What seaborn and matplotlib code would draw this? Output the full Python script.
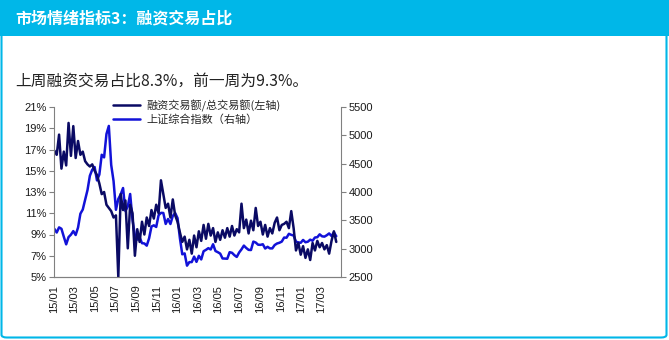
import numpy as np
import pandas as pd
import matplotlib
matplotlib.use("Agg")
import matplotlib.pyplot as plt
import matplotlib.dates as mdates
from matplotlib.patches import Rectangle, FancyBboxPatch
import seaborn as sns

# ---------------- data (weekly) ----------------
start_date = "2015-01-02"
ratio = [16.9, 16.5, 18.4, 15.2, 16.8, 15.5, 19.5, 16.4, 19.2, 16.2,
         17.8, 16.5, 16.8, 15.9, 15.6, 15.4, 15.6, 15.0, 14.6, 13.8,
         12.8, 13.0, 11.8, 11.5, 11.2, 10.6, 10.8, 5.0, 12.8, 11.3,
         12.2, 7.7, 11.8, 11.0, 7.0, 9.5, 8.3, 10.2, 9.0, 10.6,
         9.8, 11.3, 10.5, 11.8, 11.0, 14.1, 12.8, 11.5, 11.9, 10.6,
         12.3, 10.8, 10.2, 9.2, 8.3, 8.8, 7.6, 8.5, 7.2, 8.9,
         7.8, 9.3, 8.4, 9.9, 8.6, 10.0, 8.9, 9.6, 8.3, 9.2,
         8.5, 9.4, 8.7, 9.6, 8.8, 9.8, 8.9, 9.5, 9.2, 11.9,
         9.6, 10.4, 9.1, 10.3, 9.4, 11.5, 9.8, 10.2, 9.0, 9.9,
         8.8, 9.6, 9.1, 10.1, 10.6, 9.4, 9.9, 10.0, 10.2, 9.6,
         11.2, 9.6, 7.5, 8.2, 7.1, 7.9, 6.8, 7.6, 6.6, 8.2,
         7.5, 8.4, 7.8, 8.2, 7.6, 8.0, 7.2, 8.4, 9.3, 8.3]
sse = [3350, 3285, 3376, 3351, 3210, 3076, 3204, 3247, 3310, 3241,
       3372, 3617, 3691, 3864, 4034, 4287, 4394, 4441, 4205, 4308,
       4657, 4611, 5023, 5166, 4478, 4192, 3686, 3877, 3957, 4070,
       3663, 3744, 3965, 3507, 3232, 3160, 3200, 3097, 3092, 3053,
       3183, 3391, 3412, 3383, 3590, 3632, 3630, 3436, 3524, 3435,
       3578, 3628, 3539, 3186, 2901, 2916, 2700, 2763, 2763, 2860,
       2767, 2874, 2810, 2955, 2979, 3009, 2985, 3078, 2959, 2938,
       2913, 2827, 2825, 2822, 2938, 2927, 2885, 2854, 2932, 2988,
       3054, 3012, 2979, 2976, 3125, 3108, 3070, 3067, 3078, 3002,
       3033, 3005, 3005, 3064, 3091, 3104, 3125, 3196, 3193, 3262,
       3244, 3233, 3123, 3110, 3104, 3154, 3113, 3123, 3159, 3140,
       3197, 3202, 3253, 3218, 3212, 3237, 3269, 3223, 3287, 3220]
label_ratio = "融资交易额/总交易额(左轴)"
label_sse = "上证综合指数（右轴）"
left_ticks = [5, 7, 9, 11, 13, 15, 17, 19, 21]
right_ticks = [2500, 3000, 3500, 4000, 4500, 5000, 5500]
title = "市场情绪指标3：融资交易占比"
subtitle = "上周融资交易占比8.3%，前一周为9.3%。"

dates = pd.date_range(start_date, periods=len(ratio), freq="W-FRI")
df = pd.DataFrame({"date": dates, "ratio": ratio, "sse": sse})

# ---------------- style ----------------
sns.set_style("white")
plt.rcParams["font.family"] = ["Liberation Sans", "Noto Sans CJK SC", "DejaVu Sans"]
cjk = ["Noto Sans CJK SC", "DejaVu Sans"]

W, H = 669, 340
fig = plt.figure(figsize=(W / 100, H / 100), dpi=100)

cyan = "#00b7e8"
# panel border
fig.patches.append(FancyBboxPatch((1.5 / W, 2.5 / H), (W - 4) / W, (H - 6) / H,
                                  boxstyle="round,pad=0,rounding_size=0.008",
                                  transform=fig.transFigure, facecolor="white",
                                  edgecolor=cyan, linewidth=1.5, zorder=-2))
# header bar
fig.patches.append(Rectangle((0, (H - 36) / H), 1, 36 / H, transform=fig.transFigure,
                             facecolor=cyan, edgecolor="none", zorder=-1))
fig.text(15 / W, (H - 18) / H, title, color="white", fontsize=11.5, fontweight="bold",
         family=cjk, va="center", ha="left")
fig.text(15 / W, (H - 81) / H, subtitle, color="#222222", fontsize=11.3,
         family=cjk, va="center", ha="left")

# ---------------- chart ----------------
ax = fig.add_axes([54 / W, (H - 277) / H, (341 - 54) / W, (277 - 107) / H])
ax2 = ax.twinx()

navy = "#0a0a64"
blue = "#1212d8"
sns.lineplot(data=df, x="date", y="sse", ax=ax2, color=blue, linewidth=1.8, label=label_sse, legend=False)
sns.lineplot(data=df, x="date", y="ratio", ax=ax, color=navy, linewidth=1.8, label=label_ratio, legend=False)
ax2.set_zorder(1)
ax.set_zorder(2)
ax.patch.set_visible(False)
ax2.patch.set_visible(False)

ax.set_ylim(5, 21)
ax.set_yticks(left_ticks)
ax.set_yticklabels([f"{t}%" for t in left_ticks])
ax2.set_ylim(2500, 5500)
ax2.set_yticks(right_ticks)
ax2.set_yticklabels([str(t) for t in right_ticks])

ax.set_xlim(pd.Timestamp("2015-01-01"), pd.Timestamp("2017-04-28"))
ax.xaxis.set_major_locator(mdates.MonthLocator(bymonth=[1, 3, 5, 7, 9, 11]))
ax.xaxis.set_major_formatter(mdates.DateFormatter("%y/%m"))
for lab in ax.get_xticklabels():
    lab.set_rotation(90)

ax.set_xlabel("")
ax.set_ylabel("")
ax2.set_ylabel("")
ax2.set_xlabel("")

spine_c = "#808080"
for a in (ax, ax2):
    for s in a.spines.values():
        s.set_color(spine_c)
        s.set_linewidth(0.8)
    a.spines["top"].set_visible(False)
    a.tick_params(axis="both", which="major", direction="out", length=3.5, width=0.8,
                  color=spine_c, labelsize=8, labelcolor="#1a1a1a", pad=2)
ax.spines["right"].set_visible(False)
ax2.spines["left"].set_visible(False)
ax2.tick_params(axis="x", length=0)

h1, l1 = ax.get_legend_handles_labels()
h2, l2 = ax2.get_legend_handles_labels()
leg = ax.legend(h1 + h2, l1 + l2, loc="upper left", bbox_to_anchor=(0.19, 1.07),
                frameon=False, prop={"family": cjk, "size": 8}, handlelength=2.4,
                handletextpad=0.6, labelspacing=0.22, borderaxespad=0)

fig.savefig("out.png", dpi=100)
